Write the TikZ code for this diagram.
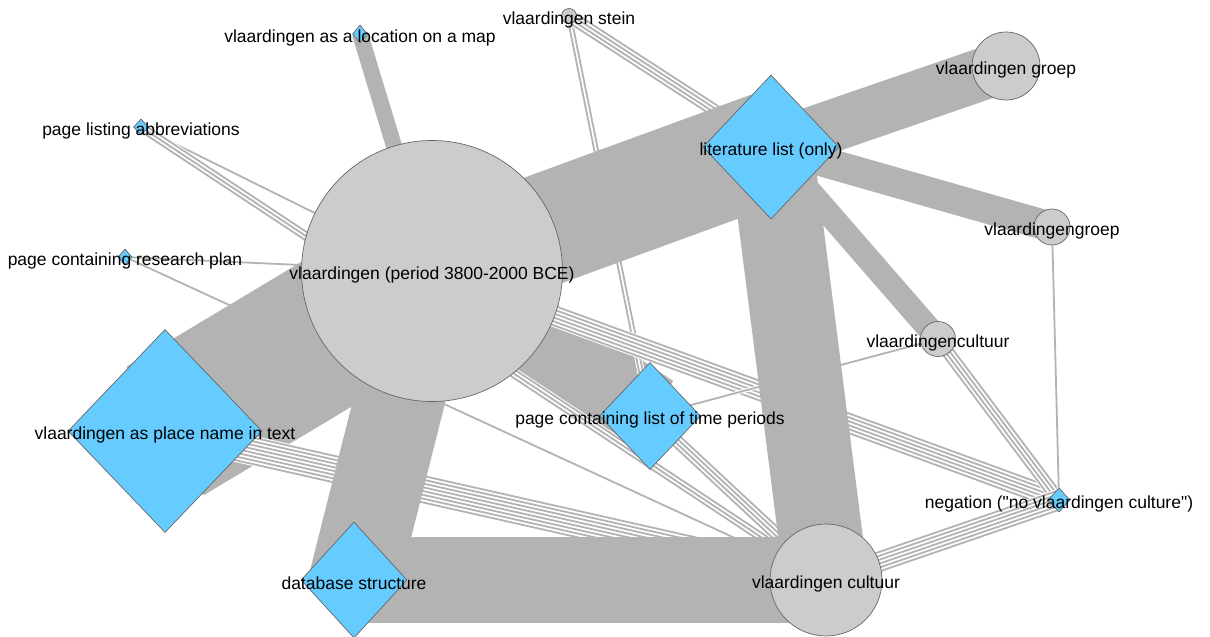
\documentclass[tikz,border=0pt]{standalone}
\usepackage{fontspec}
\setmainfont{Liberation Sans}
\newfontfamily\lblfont{Liberation Sans}
\usepackage{xcolor}
\usetikzlibrary{calc, shapes.geometric}
\definecolor{edgegray}{RGB}{179,179,179}
\definecolor{vgray}{RGB}{204,204,204}
\definecolor{vblue}{RGB}{102,204,255}
\pgfdeclarelayer{background}
\pgfsetlayers{background,main}
% several parallel thin edges between two vertices
\newcommand{\bundle}[3]{%
	\draw[white,line width=#3*3.7pt] (#1.center) -- (#2.center);
	\foreach \k in {1,...,#3}{
		\pgfmathsetmacro{\off}{(\k-(#3+1)/2)*3.7}
		\draw[thinedge] ($(#1)!\off pt!90:(#2)$) -- ($(#2)!\off pt!-90:(#1)$);
	}}

\begin{document}
\begin{tikzpicture}[x=1pt,y=-1pt,
				circnode/.style={circle,draw=black!60,fill=vgray,line width=0.7pt,inner sep=0pt},
				diamnode/.style={diamond,draw=black!60,fill=vblue,line width=0.7pt,inner sep=0pt},
				every label/.style={font=\lblfont\fontsize{17.5pt}{20pt}\selectfont,inner sep=0pt,text=black,yshift=-3.5pt},
				band/.style={draw=edgegray},
				thinedge/.style={draw=edgegray,line width=1.8pt},
				]
				\useasboundingbox (0,0) rectangle (1210,637);
				% vertices
				\node[circnode,minimum size=261pt,label=center:{vlaardingen (period 3800-2000 BCE)}] (period) at (432,271) {};
				\node[diamnode,minimum width=136pt,minimum height=144pt,label=center:{literature list (only)}] (litlist) at (771,147) {};
				\node[circnode,minimum size=68pt,label=center:{vlaardingen groep}] (groep) at (1006,66) {};
				\node[circnode,minimum size=36pt,label=center:{vlaardingengroep}] (groepb) at (1052,227) {};
				\node[circnode,minimum size=35pt,label=center:{vlaardingencultuur}] (cultuurb) at (938,339) {};
				\node[circnode,minimum size=15pt,label=center:{vlaardingen stein}] (stein) at (569,16) {};
				\node[diamnode,minimum width=15pt,minimum height=18pt,label=center:{vlaardingen as a location on a map}] (mapnode) at (360,34) {};
				\node[diamnode,minimum width=15pt,minimum height=16pt,label=center:{page listing abbreviations}] (abbrev) at (141,127) {};
				\node[diamnode,minimum width=14pt,minimum height=16pt,label=center:{page containing research plan}] (resplan) at (125,257) {};
				\node[diamnode,minimum width=194pt,minimum height=203pt,label=center:{vlaardingen as place name in text}] (placename) at (165,431) {};
				\node[diamnode,minimum width=101pt,minimum height=107pt,label=center:{page containing list of time periods}] (timeper) at (650,416) {};
				\node[diamnode,minimum width=106pt,minimum height=116pt,label=center:{database structure}] (dbstruct) at (354,580) {};
				\node[circnode,minimum width=110pt,minimum height=112pt,label=center:{vlaardingen cultuur}] (cultuur) at (826,580) {};
				\node[diamnode,minimum width=22pt,minimum height=24pt,label=center:{negation ("no vlaardingen culture")}] (negation) at (1059,500) {};
				
				\begin{pgfonlayer}{background}
					% thin edges below the heavy ones
					\bundle{resplan}{cultuur}{1}
					\bundle{resplan}{period}{1}
					\bundle{abbrev}{period}{1}
					\draw[band,line width=150pt] (placename.center) -- (period.center);
					\draw[band,line width=84pt] (period.center) -- (timeper.center);
					\bundle{placename}{cultuur}{8}
					\bundle{abbrev}{cultuur}{3}
					\bundle{stein}{timeper}{2}
					\bundle{stein}{litlist}{4}
					\bundle{period}{negation}{6}
					\bundle{timeper}{cultuur}{4}
					\bundle{timeper}{cultuurb}{1}
					\bundle{cultuurb}{negation}{4}
					\bundle{groepb}{negation}{1}
					\bundle{cultuur}{negation}{6}
					% heavy edges
					\draw[band,line width=90pt] (period.center) -- (dbstruct.center);
					\draw[band,line width=112pt] (period.center) -- (litlist.center);
					\draw[band,line width=84pt] (litlist.center) -- (cultuur.center);
					\draw[band,line width=52pt] (litlist.center) -- (groep.center);
					\draw[band,line width=30pt] (litlist.center) -- (groepb.center);
					\draw[band,line width=24pt] (litlist.center) -- (cultuurb.center);
					\draw[band,line width=86pt] (dbstruct.center) -- (cultuur.center);
					\draw[band,line width=16pt] (mapnode.center) -- (period.center);
				\end{pgfonlayer}
			\end{tikzpicture}
\end{document}
